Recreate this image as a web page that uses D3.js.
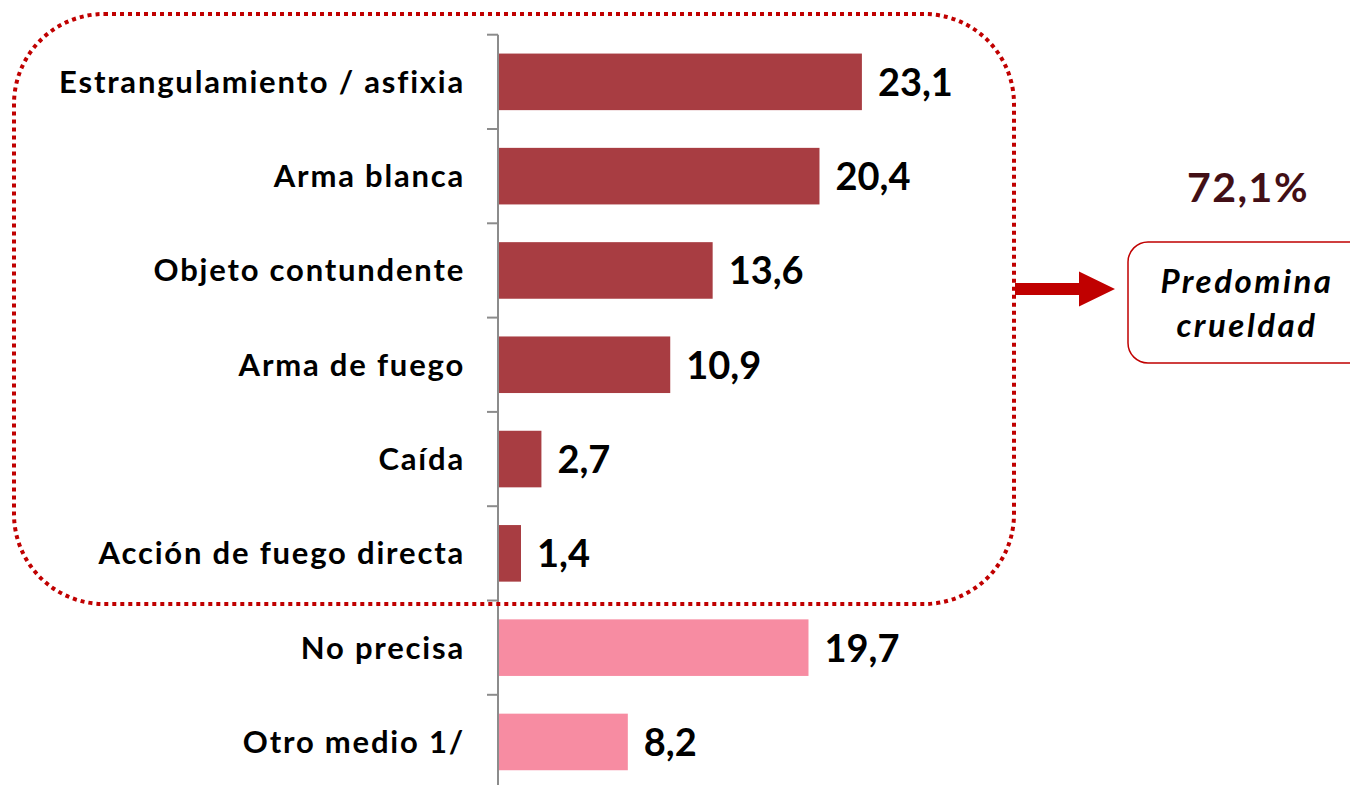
<!DOCTYPE html>
<html lang="es">
<head>
<meta charset="utf-8">
<script src="https://cdn.jsdelivr.net/npm/d3@7"></script>
<style type="text/css">
	body{ margin:0; background:#fff; }
	svg{ display:block; font-family:Lato, "Open Sans", sans-serif; }
</style>
</head>
<body>
<svg id="chart" width="1350" height="785"></svg>
<script type="text/javascript">
	// data
	var categories = ["Estrangulamiento / asfixia", "Arma blanca", "Objeto contundente", "Arma de fuego", "Caída", "Acción de fuego directa", "No precisa", "Otro medio 1/"];
	var values = [23.1, 20.4, 13.6, 10.9, 2.7, 1.4, 19.7, 8.2];
	var groups = ["cruel", "cruel", "cruel", "cruel", "cruel", "cruel", "otro", "otro"];
	var totalLabel = "72,1%";
	var noteLines = ["Predomina", "crueldad"];

	var colors = { cruel: "#a83d42", otro: "#f78ca2" };

	var svg = d3.select("#chart");

	var y = d3.scaleBand()
		.domain(categories)
		.range([34.7, 34.7 + 8 * 94.3])
		.paddingInner(0.4)
		.paddingOuter(0.2);

	var x = d3.scaleLinear()
		.domain([0, 25])
		.range([499, 499 + 25 * 15.71]);

	// bars
	svg.selectAll("rect.bar")
		.data(categories)
		.enter()
		.append("rect")
		.attr("class", "bar")
		.attr("x", x(0))
		.attr("y", function(d) { return y(d); })
		.attr("width", function(d, i) { return x(values[i]) - x(0); })
		.attr("height", y.bandwidth())
		.style("fill", function(d, i) { return colors[groups[i]]; });

	// axis line + ticks between categories
	var axisG = svg.append("g");
	axisG.append("line")
		.attr("x1", 498).attr("x2", 498)
		.attr("y1", y.range()[0]).attr("y2", 790)
		.style("stroke", "#8c8c8c").style("stroke-width", 2);
	var step = y.step();
	axisG.selectAll("line.tick")
		.data(d3.range(categories.length + 1))
		.enter()
		.append("line")
		.attr("class", "tick")
		.attr("x1", 487).attr("x2", 498)
		.attr("y1", function(i) { return y.range()[0] + i * step; })
		.attr("y2", function(i) { return y.range()[0] + i * step; })
		.style("stroke", "#8c8c8c").style("stroke-width", 2);

	// category labels
	svg.selectAll("text.cat")
		.data(categories)
		.enter()
		.append("text")
		.attr("class", "cat")
		.attr("x", 465)
		.attr("y", function(d) { return y(d) + y.bandwidth() / 2 + 11; })
		.attr("text-anchor", "end")
		.style("font-weight", "bold")
		.style("font-size", "31px")
		.style("letter-spacing", "1.8px")
		.text(function(d) { return d; });

	// value labels
	svg.selectAll("text.val")
		.data(categories)
		.enter()
		.append("text")
		.attr("class", "val")
		.attr("x", function(d, i) { return x(values[i]) + 16; })
		.attr("y", function(d) { return y(d) + y.bandwidth() / 2 + 14; })
		.style("font-weight", "bold")
		.style("font-size", "38px")
		.text(function(d, i) { return values[i].toFixed(1).replace(".", ","); });

	// dotted rounded frame around the "crueldad" group
	svg.append("rect")
		.attr("x", 14).attr("y", 14)
		.attr("width", 1000).attr("height", 590)
		.attr("rx", 90).attr("ry", 90)
		.style("fill", "none")
		.style("stroke", "#c00000")
		.style("stroke-width", 4)
		.style("stroke-dasharray", "4,4");

	// arrow
	svg.append("path")
		.attr("d", "M1015,283 L1079,283 L1079,271.5 L1115,289 L1079,306.5 L1079,295 L1015,295 Z")
		.style("fill", "#c00000");

	// note box
	svg.append("rect")
		.attr("x", 1128).attr("y", 242)
		.attr("width", 250).attr("height", 121)
		.attr("rx", 20).attr("ry", 20)
		.style("fill", "#fff")
		.style("stroke", "#c00000")
		.style("stroke-width", 1.5);

	svg.selectAll("text.note")
		.data(noteLines)
		.enter()
		.append("text")
		.attr("class", "note")
		.attr("x", 1247)
		.attr("y", function(d, i) { return 293 + i * 44; })
		.attr("text-anchor", "middle")
		.style("font-weight", "bold")
		.style("font-style", "italic")
		.style("font-size", "33px")
		.style("letter-spacing", "2.5px")
		.text(function(d) { return d; });

	svg.append("text")
		.attr("x", 1248).attr("y", 202)
		.attr("text-anchor", "middle")
		.style("font-weight", "bold")
		.style("font-size", "41px")
		.style("letter-spacing", "1.5px")
		.style("fill", "#420f16")
		.text(totalLabel);
</script>
</body>
</html>
